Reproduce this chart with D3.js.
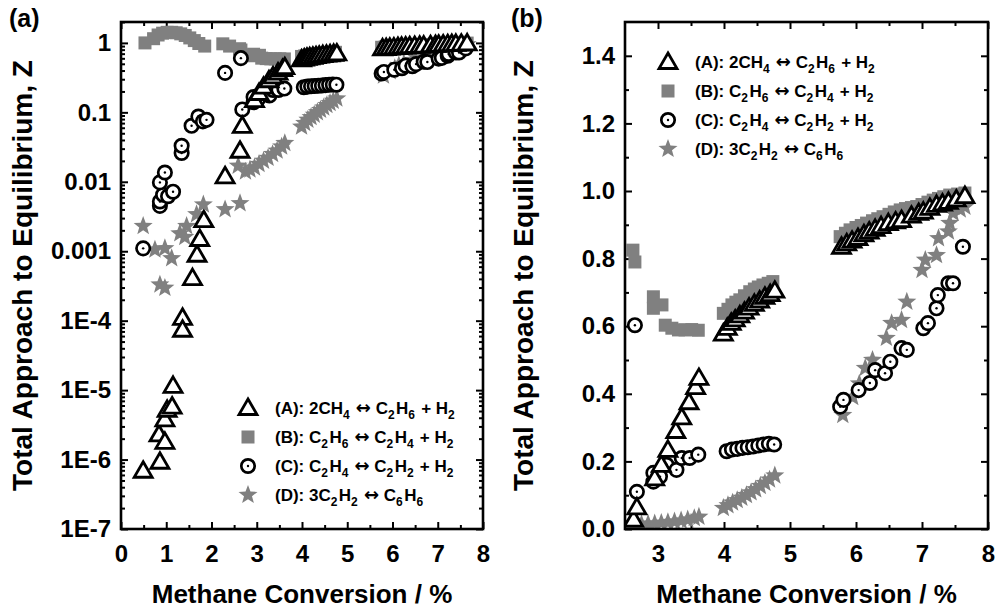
<!DOCTYPE html>
<html><head><meta charset="utf-8">
<script src="https://cdn.jsdelivr.net/npm/d3@7"></script>
<style>body{margin:0;background:#fff}svg{display:block}text{font-family:"Liberation Sans",Arial,sans-serif;font-weight:bold;fill:#000}</style>
</head><body>
<svg id="chart" width="995" height="610"></svg>
<script>
// ---- Data (Methane conversion %, Total approach to equilibrium Z) ----
const A_x = [0.49,0.84,0.86,0.97,0.97,1.02,1.13,1.15,1.36,1.36,1.58,1.68,1.74,1.83,2.30,2.63,2.68,2.95,3.05,3.15,3.27,3.36,3.47,3.57,3.62,
  3.99,4.05,4.11,4.17,4.24,4.31,4.38,4.46,4.54,4.62,4.70,4.77,
  5.78,5.86,5.94,6.03,6.12,6.20,6.29,6.38,6.49,6.60,6.69,6.84,6.95,7.02,7.12,7.22,7.31,7.40,7.52,7.65];
const A_y = [6.9e-7,2.3e-6,9.3e-7,1.8e-6,3.8e-6,5.2e-6,5.8e-6,1.15e-5,1.1e-4,7.4e-5,4.1e-4,8.9e-4,1.5e-3,2.8e-3,0.012,0.028,0.064,0.15,0.19,0.234,0.29,0.33,0.375,0.42,0.447,
  0.578,0.595,0.61,0.62,0.632,0.643,0.655,0.666,0.676,0.687,0.695,0.705,
  0.835,0.845,0.853,0.861,0.872,0.88,0.888,0.896,0.905,0.91,0.914,0.927,0.935,0.939,0.95,0.959,0.963,0.968,0.975,0.985];

const B_x = [0.53,0.72,0.82,0.92,1.02,1.12,1.22,1.32,1.42,1.52,1.62,1.72,1.85,2.25,2.40,2.62,2.65,2.93,2.93,3.06,3.11,3.21,3.31,3.41,3.51,3.61,
  3.99,4.06,4.12,4.18,4.24,4.31,4.39,4.46,4.52,4.59,4.67,4.74,
  5.76,5.84,5.91,6.00,6.08,6.16,6.25,6.33,6.41,6.50,6.58,6.67,6.75,6.84,6.92,7.00,7.09,7.17,7.25,7.33,7.42,7.54,7.65];
const B_y = [1.0,1.15,1.3,1.38,1.42,1.42,1.4,1.35,1.28,1.18,1.08,0.98,0.9,0.97,0.9,0.825,0.79,0.687,0.653,0.663,0.603,0.594,0.589,0.589,0.59,0.588,
  0.638,0.65,0.663,0.671,0.678,0.69,0.702,0.71,0.716,0.722,0.727,0.732,
  0.865,0.875,0.885,0.892,0.898,0.905,0.912,0.918,0.924,0.931,0.938,0.944,0.948,0.951,0.954,0.96,0.967,0.973,0.978,0.983,0.988,0.991,0.994];

const C_x = [0.49,0.86,0.86,0.93,1.04,1.15,0.86,0.97,1.34,1.34,1.56,1.71,1.81,1.89,2.30,2.65,2.68,2.93,2.93,3.03,3.13,3.28,3.36,3.48,3.61,
  4.04,4.12,4.20,4.28,4.36,4.44,4.52,4.60,4.68,4.76,
  5.76,5.81,6.04,6.21,6.29,6.44,6.52,6.69,6.77,7.02,7.09,7.22,7.24,7.40,7.47,7.62];
const C_y = [1.1e-3,4.5e-3,5.2e-3,6.5e-3,6.2e-3,7.2e-3,9.8e-3,0.0136,0.026,0.033,0.064,0.087,0.074,0.078,0.37,0.603,0.11,0.14,0.166,0.155,0.19,0.175,0.21,0.21,0.22,
  0.23,0.235,0.237,0.24,0.242,0.244,0.247,0.25,0.252,0.25,
  0.362,0.382,0.411,0.432,0.47,0.461,0.495,0.535,0.53,0.594,0.609,0.653,0.692,0.727,0.727,0.835];

const D_x = [0.49,0.86,0.97,0.75,0.97,1.12,1.30,1.41,1.45,1.67,1.82,2.30,2.63,2.59,2.75,2.85,2.95,3.05,3.15,3.25,3.35,3.45,3.55,3.62,
  3.99,4.06,4.13,4.20,4.27,4.34,4.41,4.48,4.55,4.62,4.69,4.77,
  5.80,5.95,6.05,6.14,6.25,6.46,6.54,6.69,6.77,7.00,7.05,7.22,7.25,7.40,7.42,7.47,7.58,7.65];
const D_y = [2.3e-3,3.3e-4,2.96e-4,1.05e-3,1.1e-3,7.9e-4,1.8e-3,1.6e-3,2.3e-3,3.4e-3,4.7e-3,4.0e-3,4.9e-3,0.017,0.014,0.015,0.016,0.018,0.02,0.022,0.025,0.028,0.032,0.036,
  0.062,0.07,0.078,0.085,0.092,0.1,0.108,0.117,0.127,0.136,0.146,0.158,
  0.337,0.39,0.43,0.476,0.5,0.565,0.609,0.618,0.672,0.766,0.796,0.81,0.86,0.88,0.905,0.935,0.945,0.953];

const xTicksA = [0,1,2,3,4,5,6,7,8];
const yTicksA = [1,0.1,0.01,0.001,1e-4,1e-5,1e-6,1e-7];
const yLabelsA = ["1","0.1","0.01","0.001","1E-4","1E-5","1E-6","1E-7"];
const xTicksB = [3,4,5,6,7,8];
const yTicksB = [0,0.2,0.4,0.6,0.8,1.0,1.2,1.4];
const legendKeys = ["A","B","C","D"];

// ---- Drawing ----
const svg = d3.select("#chart");
svg.append("rect").attr("width",995).attr("height",610).attr("fill","#fff");
const GRAY = "#808080";

function zip(xs, ys){ return xs.map((x,i)=>({x, y: ys[i]})); }
const series = { B: zip(B_x,B_y), D: zip(D_x,D_y), C: zip(C_x,C_y), A: zip(A_x,A_y) };

function starPath(R, r){
  let p = "";
  for (let i=0;i<10;i++){
    const ang = -Math.PI/2 + i*Math.PI/5;
    const rad = i%2===0 ? R : r;
    p += (i===0?"M":"L") + (rad*Math.cos(ang)).toFixed(2) + "," + (rad*Math.sin(ang)).toFixed(2);
  }
  return p + "Z";
}
const TRI = "M0,-9L9,6.5L-9,6.5Z";
const STAR = starPath(10, 4.2);

function drawMarker(g, key, x, y){
  if (key === "A"){
    g.append("path").attr("d",TRI).attr("transform",`translate(${x},${y})`)
      .attr("fill","#fff").attr("stroke","#000").attr("stroke-width",2.8).attr("stroke-linejoin","miter");
  } else if (key === "B"){
    g.append("rect").attr("x",x-6.5).attr("y",y-6.5).attr("width",13).attr("height",13).attr("fill",GRAY);
  } else if (key === "C"){
    g.append("circle").attr("cx",x).attr("cy",y).attr("r",6.7).attr("fill","#fff").attr("stroke","#000").attr("stroke-width",2.7);
    g.append("circle").attr("cx",x).attr("cy",y).attr("r",1.2).attr("fill","#000");
  } else {
    g.append("path").attr("d",STAR).attr("transform",`translate(${x},${y})`).attr("fill",GRAY);
  }
}

const legendParts = {
  A: ["(A): 2CH",{s:"4"},{a:1},"C",{s:"2"},"H",{s:"6"}," + H",{s:"2"}],
  B: ["(B): C",{s:"2"},"H",{s:"6"},{a:1},"C",{s:"2"},"H",{s:"4"}," + H",{s:"2"}],
  C: ["(C): C",{s:"2"},"H",{s:"4"},{a:1},"C",{s:"2"},"H",{s:"2"}," + H",{s:"2"}],
  D: ["(D): 3C",{s:"2"},"H",{s:"2"},{a:1},"C",{s:"6"},"H",{s:"6"}]
};

function panel(opt){
  const {id, x, y, xMajor, xMinor, yMajor, yMinor, yFmt, legendX, legendY, tag, tagX, yTitleX} = opt;
  const [L,R] = x.range(); const [Bt,T] = y.range();
  const g = svg.append("g");
  g.append("clipPath").attr("id","clip"+id).append("rect").attr("x",L).attr("y",T).attr("width",R-L).attr("height",Bt-T);

  const tickStyle = sel => { sel.select(".domain").remove(); sel.selectAll(".tick line").attr("stroke","#000").attr("stroke-width",2); };
  const lab = sel => sel.selectAll("text").style("font-size","24px").attr("fill","#000");

  g.append("g").attr("transform",`translate(0,${Bt})`).call(d3.axisBottom(x).tickValues(xMajor).tickSize(-7).tickPadding(16).tickFormat(d3.format("d"))).call(tickStyle).call(lab);
  g.append("g").attr("transform",`translate(0,${Bt})`).call(d3.axisBottom(x).tickValues(xMinor).tickSize(-4).tickFormat("")).call(tickStyle);
  g.append("g").attr("transform",`translate(0,${T})`).call(d3.axisTop(x).tickValues(xMajor).tickSize(-7).tickFormat("")).call(tickStyle);
  g.append("g").attr("transform",`translate(0,${T})`).call(d3.axisTop(x).tickValues(xMinor).tickSize(-4).tickFormat("")).call(tickStyle);
  g.append("g").attr("transform",`translate(${L},0)`).call(d3.axisLeft(y).tickValues(yMajor).tickSize(-7).tickPadding(10).tickFormat(yFmt)).call(tickStyle).call(lab);
  g.append("g").attr("transform",`translate(${L},0)`).call(d3.axisLeft(y).tickValues(yMinor).tickSize(-4).tickFormat("")).call(tickStyle);
  g.append("g").attr("transform",`translate(${R},0)`).call(d3.axisRight(y).tickValues(yMajor).tickSize(-7).tickFormat("")).call(tickStyle);
  g.append("g").attr("transform",`translate(${R},0)`).call(d3.axisRight(y).tickValues(yMinor).tickSize(-4).tickFormat("")).call(tickStyle);

  const dg = g.append("g").attr("clip-path",`url(#clip${id})`);
  ["B","D","C","A"].forEach(k=>{
    const sg = dg.append("g").attr("class","series-"+k);
    series[k].forEach(d=>{
      if (d.x < x.domain()[0] - 0.2) return;
      drawMarker(sg, k, x(d.x), y(d.y));
    });
  });

  g.append("rect").attr("x",L).attr("y",T).attr("width",R-L).attr("height",Bt-T)
    .attr("fill","none").attr("stroke","#000").attr("stroke-width",2.6);

  g.append("text").attr("x",(L+R)/2).attr("y",603).attr("text-anchor","middle").style("font-size","26px").text("Methane Conversion / %");
  g.append("text").attr("transform",`translate(${yTitleX},${(T+Bt)/2}) rotate(-90)`).attr("text-anchor","middle").style("font-size","28px").text("Total Approach to Equilibrium, Z");
  g.append("text").attr("x",tagX).attr("y",27).style("font-size","25px").text(tag);

  const lg = g.append("g");
  legendKeys.forEach((k,i)=>{
    const ly = legendY + i*29;
    drawMarker(lg, k, legendX, ly);
    const t = lg.append("text").attr("x", legendX+27).attr("y", ly).attr("dy","0.36em").style("font-size","17px");
    legendParts[k].forEach(p=>{
      if (typeof p === "string") t.append("tspan").text(p);
      else if (p.a) { t.append("tspan").text(" "); t.append("tspan").style("font-family","'DejaVu Sans'").style("font-size","18px").text("\u2194"); t.append("tspan").text(" "); }
      else { t.append("tspan").attr("dy",5).style("font-size","12px").text(p.s); t.append("tspan").attr("dy",-5).text("\u200A"); }
    });
  });
}

const xa = d3.scaleLinear().domain([0,8]).range([121,483]);
const ya = d3.scaleLog().domain([1e-7,2]).range([529,22]);
const minorLog = [];
for (let e=-7;e<=0;e++) for (let m=2;m<=9;m++){ const v=m*Math.pow(10,e); if (v<=2) minorLog.push(v); }
panel({id:"a", x:xa, y:ya, xMajor:xTicksA, xMinor:d3.range(0.5,8,1), yMajor:yTicksA, yMinor:minorLog,
  yFmt:d=>yLabelsA[yTicksA.indexOf(d)], legendX:248, legendY:408, tag:"(a)", tagX:9, yTitleX:32});

const xb = d3.scaleLinear().domain([2.5,8]).range([625,988]);
const yb = d3.scaleLinear().domain([0,1.5]).range([529,22]);
panel({id:"b", x:xb, y:yb, xMajor:xTicksB, xMinor:d3.range(3.5,8,1), yMajor:yTicksB, yMinor:d3.range(0.1,1.5,0.2),
  yFmt:d3.format(".1f"), legendX:668, legendY:62, tag:"(b)", tagX:511, yTitleX:533});
</script>
</body></html>
